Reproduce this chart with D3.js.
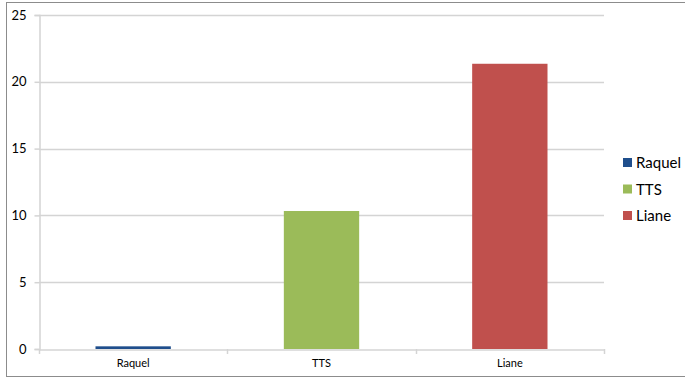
<!DOCTYPE html>
<html>
<head>
<meta charset="utf-8">
<script src="https://cdn.jsdelivr.net/npm/d3@7"></script>
<style>
  html, body { margin: 0; padding: 0; background: #fff; }
  svg { display: block; }
  text { font-family: Lato, "Open Sans", sans-serif; fill: #000; }
</style>
</head>
<body>
<svg id="chart" width="685" height="377"></svg>
<script>
// Chart data
const categories = ["Raquel", "TTS", "Liane"];
const values = [0.2, 10.33, 21.35];
const colors = ["#1F4E8C", "#9BBB59", "#C0504D"];
const yTicks = [0, 5, 10, 15, 20, 25];

const svg = d3.select("#chart");
const W = 685, H = 377;

// Outer frame
svg.append("rect")
  .attr("x", 6.5).attr("y", 2.5)
  .attr("width", W).attr("height", 374)
  .attr("fill", "none").attr("stroke", "#8c8c8c").attr("stroke-width", 1);

const plot = { left: 39, right: 604, top: 15, bottom: 349 };

const x = d3.scaleBand()
  .domain(categories)
  .range([plot.left, plot.right])
  .paddingInner(0).paddingOuter(0);

const y = d3.scaleLinear()
  .domain([0, 25])
  .range([plot.bottom, plot.top]);

const g = svg.append("g");

// Horizontal gridlines
g.selectAll("line.grid")
  .data(yTicks.filter(t => t > 0))
  .join("line")
  .attr("class", "grid")
  .attr("x1", plot.left).attr("x2", plot.right)
  .attr("y1", d => Math.round(y(d)) + 0.5).attr("y2", d => Math.round(y(d)) + 0.5)
  .attr("stroke", "#d4d4d4").attr("stroke-width", 1.5);

// Y axis
const yAxis = d3.axisLeft(y).tickValues(yTicks).tickSize(5).tickPadding(8).tickFormat(d3.format("d"));
const yAxisG = g.append("g")
  .attr("transform", `translate(${plot.left + 0.5},0)`)
  .call(yAxis);
yAxisG.select(".domain").attr("stroke", "#d4d4d4").attr("stroke-width", 1.5);
yAxisG.selectAll(".tick line").attr("stroke", "#d4d4d4").attr("stroke-width", 1.5);
yAxisG.selectAll(".tick text")
  .style("font-family", "Lato, 'Open Sans', sans-serif")
  .style("font-size", "13px").attr("fill", "#000");

// Bars (gap width 150%)
const barW = x.bandwidth() / 2.5;
g.selectAll("rect.bar")
  .data(values)
  .join("rect")
  .attr("class", "bar")
  .attr("x", (d, i) => x(categories[i]) + (x.bandwidth() - barW) / 2)
  .attr("y", d => y(d))
  .attr("width", barW)
  .attr("height", d => y(0) - y(d))
  .attr("fill", (d, i) => colors[i]);

// X axis
const xAxis = d3.axisBottom(x).tickSize(0).tickPadding(10);
const xAxisG = g.append("g")
  .attr("transform", `translate(0,${plot.bottom + 0.5})`)
  .call(xAxis);
xAxisG.select(".domain").attr("stroke", "#d4d4d4").attr("stroke-width", 1.5);
xAxisG.selectAll(".tick text")
  .style("font-family", "Lato, 'Open Sans', sans-serif")
  .style("font-size", "11px").attr("fill", "#000");

// Tick marks between categories
const bounds = categories.map(c => x(c)).concat([plot.right]);
g.selectAll("line.xtick")
  .data(bounds)
  .join("line")
  .attr("class", "xtick")
  .attr("x1", d => Math.round(d) + 0.5).attr("x2", d => Math.round(d) + 0.5)
  .attr("y1", plot.bottom).attr("y2", plot.bottom + 5)
  .attr("stroke", "#d4d4d4").attr("stroke-width", 1.5);

// Legend
const legend = svg.append("g").attr("transform", "translate(623,158)");
const items = legend.selectAll("g")
  .data(categories)
  .join("g")
  .attr("transform", (d, i) => `translate(0,${i * 26.5})`);
items.append("rect")
  .attr("width", 9).attr("height", 9)
  .attr("fill", (d, i) => colors[i]);
items.append("text")
  .attr("x", 13).attr("y", 10)
  .style("font-size", "15px")
  .text(d => d);
</script>
</body>
</html>
